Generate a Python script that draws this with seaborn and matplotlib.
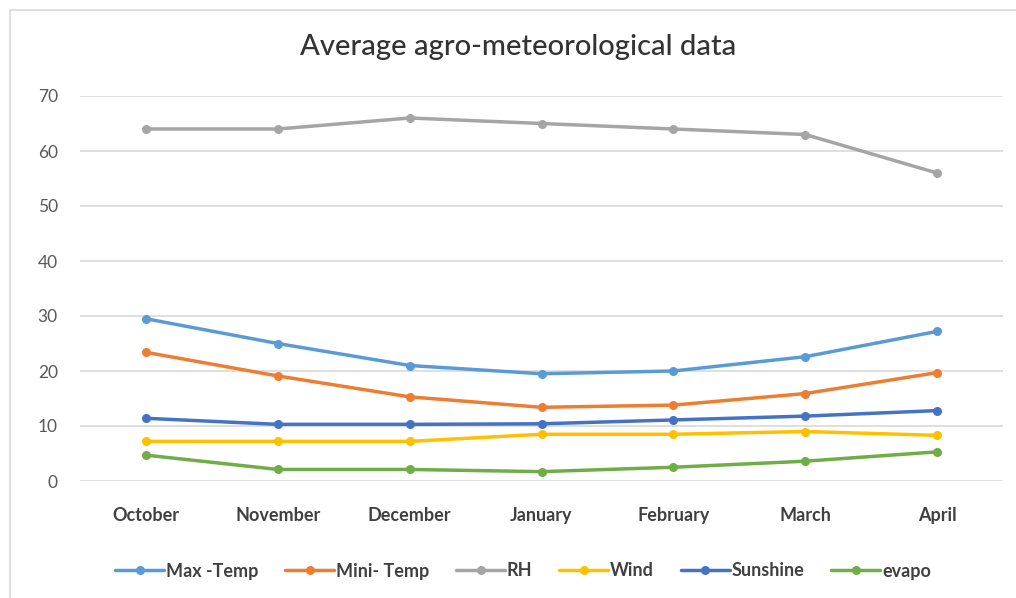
import matplotlib
matplotlib.use("Agg")
import matplotlib.pyplot as plt
import seaborn as sns
import pandas as pd
from matplotlib.patches import Rectangle

months = ["October", "November", "December", "January", "February", "March", "April"]
max_temp = [29.5, 25.0, 21.0, 19.5, 20.0, 22.6, 27.2]
mini_temp = [23.4, 19.1, 15.3, 13.4, 13.8, 15.9, 19.7]
rh = [64, 64, 66, 65, 64, 63, 56]
wind = [7.2, 7.2, 7.2, 8.5, 8.5, 9.0, 8.3]
sunshine = [11.4, 10.3, 10.3, 10.4, 11.1, 11.8, 12.8]
evapo = [4.7, 2.1, 2.1, 1.7, 2.5, 3.6, 5.3]

series_names = ["Max -Temp", "Mini- Temp", "RH", "Wind", "Sunshine", "evapo"]
series_values = [max_temp, mini_temp, rh, wind, sunshine, evapo]
colors = ["#5B9BD5", "#ED7D31", "#A5A5A5", "#FFC000", "#4472C4", "#70AD47"]
y_ticks = [0, 10, 20, 30, 40, 50, 60, 70]

rows = []
for name, vals in zip(series_names, series_values):
    for i, (m, v) in enumerate(zip(months, vals)):
        rows.append({"month": m, "pos": i, "series": name, "value": v})
df = pd.DataFrame(rows)

sns.set_theme(style="white")
plt.rcParams["font.family"] = ["Lato", "DejaVu Sans"]

fig = plt.figure(figsize=(10.16, 5.98), dpi=100)
ax = fig.add_axes([80 / 1016, 1 - 481 / 598, 923 / 1016, 385 / 598])

sns.lineplot(data=df, x="pos", y="value", hue="series", hue_order=series_names,
             palette=colors, marker="o", markersize=6.5, markeredgewidth=0,
             linewidth=2.5, ax=ax, legend=True, sort=False)

ax.set_xlim(-0.5, 6.5)
ax.set_ylim(0, 70)
ax.set_yticks(y_ticks)
ax.set_yticklabels([str(t) for t in y_ticks], color="#595959", fontsize=12.5)
ax.set_xticks(range(len(months)))
ax.set_xticklabels(months, fontweight="bold", color="#404040", fontsize=13)
ax.tick_params(axis="x", length=0, pad=19)
ax.tick_params(axis="y", length=0, pad=16)
ax.set_xlabel("")
ax.set_ylabel("")
ax.yaxis.grid(True, color="#D9D9D9", linewidth=1.2)
ax.set_axisbelow(True)
for s in ax.spines.values():
    s.set_visible(False)

handles, labels = ax.get_legend_handles_labels()
ax.legend(handles, labels, loc="center", bbox_to_anchor=(523 / 1016, 1 - 571 / 598),
          bbox_transform=fig.transFigure, ncol=6, frameon=False,
          handlelength=2.7, handletextpad=0.1, columnspacing=1.5,
          labelcolor="#404040", prop={"weight": "bold", "size": 13})

fig.text(518 / 1016, 1 - 47 / 598, "Average agro-meteorological data",
         ha="center", va="center", fontsize=21, color="#333333", fontweight="medium")

fig.patches.append(Rectangle((10 / 1016, -0.05), 1.1, 1 - 10 / 598 + 0.05,
                             transform=fig.transFigure, fill=False,
                             edgecolor="#D9D9D9", linewidth=1.2))

fig.savefig("out.png", dpi=100)
